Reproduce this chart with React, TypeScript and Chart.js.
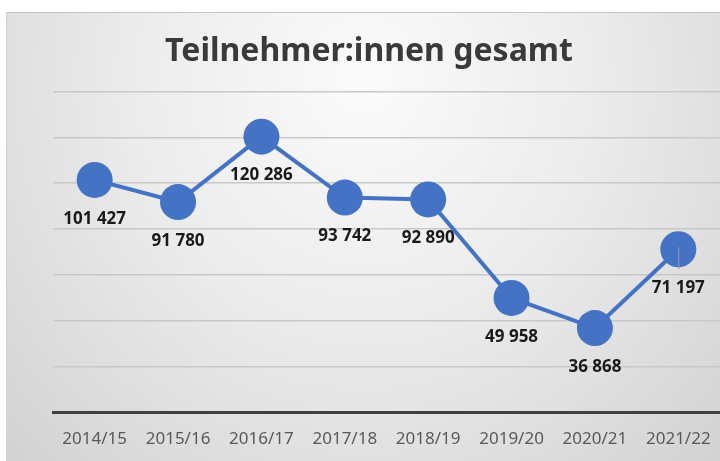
import React, { useEffect, useRef } from "react";
import { Chart, registerables } from "chart.js";

Chart.register(...registerables);

const categories = ["2014/15", "2015/16", "2016/17", "2017/18", "2018/19", "2019/20", "2020/21", "2021/22"];
const participants = [101427, 91780, 120286, 93742, 92890, 49958, 36868, 71197];
const chartTitle = "Teilnehmer:innen gesamt";

const fmt = (v: number) => {
  const s = String(Math.round(v));
  return s.replace(/\B(?=(\d{3})+(?!\d))/g, " ");
};

const labelPlugin = {
  id: "pointLabels",
  afterDatasetsDraw(chart: any) {
    const ctx = chart.ctx;
    const meta = chart.getDatasetMeta(0);
    ctx.save();
    // leader line on the last point
    const last = meta.data[meta.data.length - 1];
    ctx.strokeStyle = "#9a9a9a";
    ctx.lineWidth = 1;
    ctx.beginPath();
    ctx.moveTo(last.x + 0.5, last.y - 2);
    ctx.lineTo(last.x + 0.5, last.y + 20);
    ctx.stroke();
    ctx.font = "bold 17px 'Noto Sans', sans-serif";
    ctx.fillStyle = "#1a1a1a";
    ctx.textAlign = "center";
    ctx.textBaseline = "middle";
    meta.data.forEach((pt: any, i: number) => {
      ctx.fillText(fmt(participants[i]), pt.x, pt.y + 39);
    });
    ctx.restore();
  },
};

export default function App() {
  const ref = useRef<HTMLCanvasElement>(null);
  useEffect(() => {
    document.body.style.margin = "0";
    const chart = new Chart(ref.current!, {
      type: "line",
      data: {
        labels: categories,
        datasets: [
          {
            data: participants,
            borderColor: "#4472C4",
            backgroundColor: "#4472C4",
            borderWidth: 4,
            pointRadius: 18,
            pointHoverRadius: 18,
            pointBackgroundColor: "#4472C4",
            pointBorderWidth: 0,
            tension: 0,
            clip: false as any,
          },
        ],
      },
      options: {
        animation: false,
        responsive: false,
        layout: { autoPadding: false, padding: { top: 20, left: 18, right: 0, bottom: -4 } },
        plugins: {
          legend: { display: false },
          tooltip: { enabled: false },
          title: {
            display: true,
            text: chartTitle,
            color: "#3a3a3a",
            font: { family: "'Noto Sans', sans-serif", size: 32, weight: "bold" as any },
            padding: { top: 13, bottom: 20 },
          },
        },
        scales: {
          x: {
            offset: true,
            afterFit: (s: any) => {
              s.paddingLeft = 0;
              s.paddingRight = 0;
            },
            grid: { display: false, drawTicks: false },
            border: { display: true, color: "#404040", width: 3 },
            ticks: {
              color: "#595959",
              padding: 16,
              maxRotation: 0,
              autoSkip: false,
              font: { family: "'Noto Sans', sans-serif", size: 17 },
            },
          },
          y: {
            min: 0,
            max: 140000,
            afterFit: (s: any) => {
              s.width = 35;
            },
            grid: { color: "#c8c8c8", lineWidth: 1.5, drawTicks: false },
            border: { display: false },
            ticks: { display: false, stepSize: 20000 },
          },
        },
      },
      plugins: [labelPlugin],
    });
    return () => chart.destroy();
  }, []);
  return (
    <div style={{ position: "relative", width: 720, height: 461, background: "#fff", overflow: "hidden" }}>
      <div
        style={{
          position: "absolute",
          left: 6,
          top: 12,
          width: 714,
          height: 449,
          borderTop: "1px solid #c4c4c4",
          borderLeft: "1px solid #d0d0d0",
          background: "radial-gradient(ellipse at 50% 15%, #fbfbfb 0%, #ececec 45%, #d2d2d2 100%)",
        }}
      />
      <canvas ref={ref} width={720} height={461} style={{ position: "absolute", left: 0, top: 0 }} />
    </div>
  );
}
